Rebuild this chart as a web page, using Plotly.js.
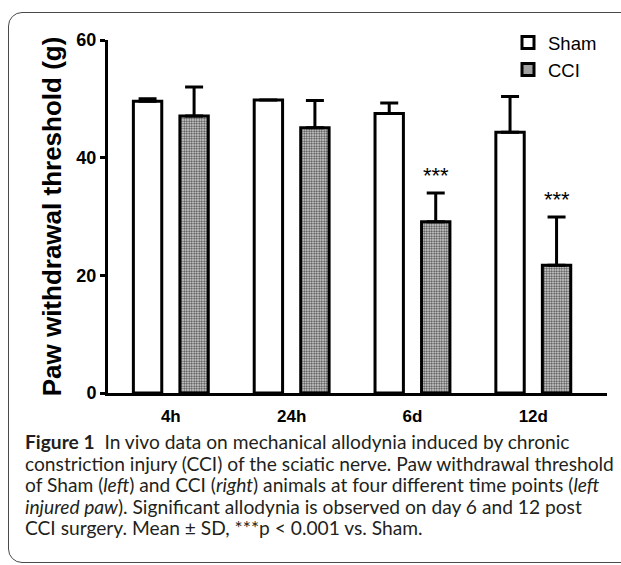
<!DOCTYPE html>
<html>
<head>
<meta charset="utf-8">
<script src="https://cdn.plot.ly/plotly-3.0.1.min.js"></script>
<style>
  html, body { margin: 0; padding: 0; background: #fff; overflow: hidden; }
  #wrap { position: relative; width: 621px; height: 565px; overflow: hidden; }
  #frame { position: absolute; left: 8px; top: 12px; width: 700px; height: 551px;
           border: 1.5px solid #4a4a4a; border-radius: 14px; box-sizing: border-box; }
  #chart { position: absolute; left: 0; top: 0; width: 621px; height: 565px; }
</style>
</head>
<body>
<div id="wrap">
  <div id="frame"></div>
  <div id="chart"></div>
</div>
<script>
// ---- data ----
const categories = ["4h", "24h", "6d", "12d"];
const shamMean = [49.6, 49.8, 47.5, 44.3];
const shamSD   = [0.4, 0.0, 1.8, 6.1];
const cciMean  = [47.1, 45.1, 29.1, 21.7];
const cciSD    = [4.9, 4.6, 4.9, 8.2];
const significance = ["", "", "***", "***"];
const yTickVals = [0, 20, 40, 60];
const yTitle = "Paw withdrawal threshold (g)";
const captionLines = [
  "<b>Figure 1</b>  In vivo data on mechanical allodynia induced by chronic",
  "constriction injury (CCI) of the sciatic nerve. Paw withdrawal threshold",
  "of Sham (<i>left</i>) and CCI (<i>right</i>) animals at four different time points (<i>left</i>",
  "<i>injured paw</i>). Significant allodynia is observed on day 6 and 12 post",
  "CCI surgery. Mean ± SD, ***p < 0.001 vs. Sham."
];

// ---- layout constants ----
const W = 621, H = 565;
const M = { l: 108, r: 14, t: 40, b: 172 };
const plotH = H - M.t - M.b;
const plotW = W - M.l - M.r;
const bargap = 0.23;
const pxToPaperX = px => (px - M.l) / plotW;
const pxToPaperY = py => (H - M.b - py) / plotH;

const zeros = categories.map(() => 0);
const ARIAL = "Liberation Sans, Arial, sans-serif";

const traces = [
  {
    type: "bar", name: "Sham", x: categories, y: shamMean,
    marker: { color: "#ffffff", line: { color: "#000", width: 3 } },
    error_y: { type: "data", array: shamSD, arrayminus: zeros, symmetric: false,
               color: "#000", thickness: 3, width: 9 }
  },
  {
    type: "bar", name: "CCI", x: categories, y: cciMean,
    marker: { color: "#ffffff", line: { color: "#000", width: 3 },
              pattern: { shape: ".", size: 2.5, solidity: 0.5, fgcolor: "#4a4a4a", bgcolor: "#e6e6e6" } },
    error_y: { type: "data", array: cciSD, arrayminus: zeros, symmetric: false,
               color: "#000", thickness: 3, width: 9 }
  }
];

const annotations = [];
// significance stars above CCI bars (CCI slot centre = +(1-bargap)/4 category units)
const cciOffset = (1 - bargap) / 4;
categories.forEach((c, i) => {
  if (significance[i]) {
    annotations.push({
      x: i + cciOffset, y: cciMean[i] + cciSD[i], xref: "x", yref: "y",
      text: significance[i], showarrow: false, yanchor: "bottom", yshift: 3,
      font: { family: ARIAL, size: 22, color: "#000" }
    });
  }
});
// caption
const capY = [441, 463, 484, 506, 527];
captionLines.forEach((t, i) => {
  annotations.push({
    x: pxToPaperX(23), y: pxToPaperY(capY[i]), xref: "paper", yref: "paper",
    xanchor: "left", yanchor: "middle", align: "left", showarrow: false,
    text: t, font: { family: "Lato, 'Open Sans', sans-serif", size: 19.2, color: "#231f20" }
  });
});

const layout = {
  width: W, height: H,
  margin: M,
  paper_bgcolor: "rgba(0,0,0,0)",
  plot_bgcolor: "rgba(0,0,0,0)",
  barmode: "group",
  bargap: bargap,
  bargroupgap: 0.39,
  showlegend: true,
  legend: {
    x: pxToPaperX(508), y: pxToPaperY(24), xanchor: "left", yanchor: "top",
    bgcolor: "rgba(0,0,0,0)", borderwidth: 0, itemwidth: 30,
    font: { family: ARIAL, size: 18.5, color: "#000" }
  },
  xaxis: {
    type: "category", range: [-0.52, 3.61],
    showline: true, linecolor: "#000", linewidth: 3,
    ticks: "", showgrid: false, zeroline: false, ticklabelstandoff: 6,
    tickfont: { family: ARIAL, size: 17, color: "#000", weight: "bold" },
    fixedrange: true
  },
  yaxis: {
    range: [0, 60], tickvals: yTickVals,
    showline: true, linecolor: "#000", linewidth: 3,
    ticks: "outside", ticklen: 5, tickwidth: 3, tickcolor: "#000",
    showgrid: false, zeroline: false,
    tickfont: { family: ARIAL, size: 18, color: "#000", weight: "bold" },
    title: { text: "<b>" + yTitle + "</b>", font: { family: ARIAL, size: 26, color: "#000" }, standoff: 8 },
    fixedrange: true
  },
  annotations: annotations
};

Plotly.newPlot("chart", traces, layout, { staticPlot: true, displayModeBar: false });
</script>
</body>
</html>
